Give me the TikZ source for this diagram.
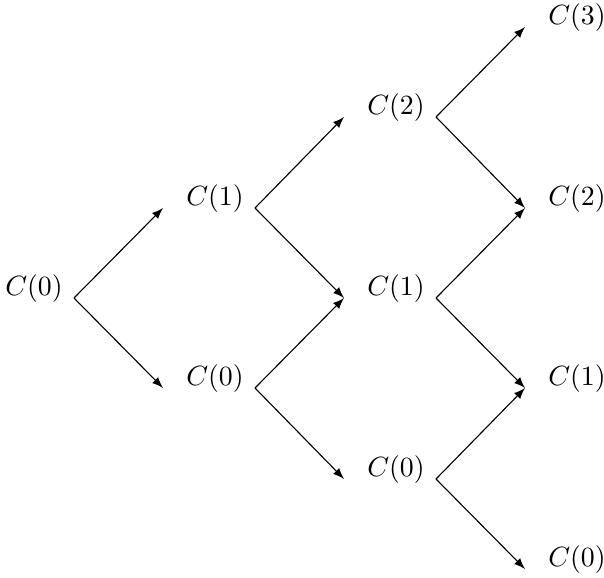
\documentclass[tikz,border=0pt]{standalone}
\usetikzlibrary{arrows}
\begin{document}
\begin{tikzpicture}[x=0.3597pt,y=-0.3597pt,
  lbl/.style={inner sep=0pt},
  edge/.style={-latex,line width=0.4pt}]
\useasboundingbox (0,0) rectangle (604,577);
\node[lbl] (n0) at (34,289) {$C(0)$};
\node[lbl] (a1) at (215,199) {$C(1)$};
\node[lbl] (a0) at (215,379) {$C(0)$};
\node[lbl] (b2) at (396,108) {$C(2)$};
\node[lbl] (b1) at (396,289) {$C(1)$};
\node[lbl] (b0) at (396,470) {$C(0)$};
\node[lbl] (c3) at (577,18) {$C(3)$};
\node[lbl] (c2) at (577,199) {$C(2)$};
\node[lbl] (c1) at (577,379) {$C(1)$};
\node[lbl] (c0) at (577,560) {$C(0)$};
\foreach \s/\t in {n0/a1,n0/a0,a1/b2,a1/b1,a0/b1,a0/b0,b2/c3,b2/c2,b1/c2,b1/c1,b0/c1,b0/c0}
  \draw[edge] ([shift={(40,9)}]\s.center) -- ([shift={(-52,9)}]\t.center);
\end{tikzpicture}
\end{document}
